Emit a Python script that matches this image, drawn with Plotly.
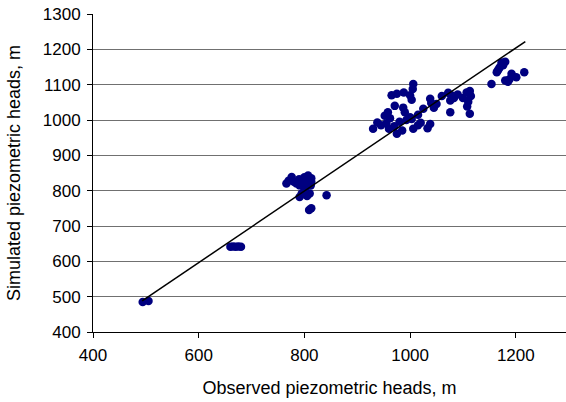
import plotly.graph_objects as go

obs_x = [494, 505,
         660, 665, 670, 675, 680,
         776, 766, 770, 780, 790, 800, 807, 813, 813, 798, 791, 801, 795, 810, 791, 805, 842, 809, 813, 785, 805, 812, 800,
         1006, 1005, 1000, 988, 975, 965, 1003, 971, 987, 990, 958, 952, 962, 1000, 1015, 1025, 1038, 1040, 1060, 1072,
         1078, 1076, 1083, 1090, 1107, 1113, 1115, 1100, 1110, 1108, 1113, 1076, 938, 930, 945, 955, 970, 975, 980, 993,
         1003, 1006, 1015, 1020, 1038, 1033, 985, 960, 1050, 1045,
         1173, 1180, 1170, 1166, 1164, 1168, 1154, 1180, 1188, 1192, 1201, 1216, 1176, 1185]
sim_y = [485, 488,
         641, 642, 641, 642, 641,
         839, 820, 828, 825, 832, 838, 843, 835, 825, 820, 815, 806, 792, 792, 782, 785, 787, 745, 750, 820, 828, 815, 800,
         1102, 1088, 1070, 1078, 1074, 1070, 1057, 1040, 1035, 1022, 1022, 1012, 1005, 1008, 1015, 1032, 1060, 1048, 1068, 1077,
         1070, 1055, 1062, 1072, 1078, 1082, 1068, 1062, 1052, 1038, 1018, 1022, 993, 975, 985, 990, 982, 961, 995, 1000,
         1003, 975, 985, 992, 989, 977, 970, 975, 1045, 1035,
         1163, 1165, 1150, 1140, 1135, 1145, 1102, 1112, 1115, 1131, 1121, 1135, 1155, 1108]

trend_x = [493, 1218]
trend_y = [488, 1222]

x_ticks = [400, 600, 800, 1000, 1200]
y_ticks = [400, 500, 600, 700, 800, 900, 1000, 1100, 1200, 1300]

FONT = "Liberation Sans, Arial, sans-serif"

fig = go.Figure()
fig.add_trace(go.Scatter(x=obs_x, y=sim_y, mode="markers",
                         marker=dict(color="#000080", size=8.5, line=dict(width=0)),
                         showlegend=False))
fig.add_trace(go.Scatter(x=trend_x, y=trend_y, mode="lines",
                         line=dict(color="black", width=1.5), showlegend=False))

fig.update_layout(
    width=566, height=402,
    margin=dict(l=93, r=0, t=14, b=70, autoexpand=False),
    paper_bgcolor="white", plot_bgcolor="white",
    font=dict(family=FONT, size=17, color="black"),
    xaxis=dict(range=[400, 1295], tickvals=x_ticks, showgrid=False, zeroline=False,
               automargin=False,
               showline=True, linecolor="black", linewidth=1,
               ticks="outside", ticklen=5, tickcolor="black", tickfont=dict(size=17),
               ticklabelstandoff=3,
               title=dict(text="Observed piezometric heads, m", standoff=16, font=dict(size=18))),
    yaxis=dict(range=[400, 1300], tickvals=y_ticks, showgrid=True, gridcolor="#707070", gridwidth=1,
               automargin=False,
               zeroline=False, showline=True, linecolor="black", linewidth=1,
               ticks="outside", ticklen=5, tickcolor="black", tickfont=dict(size=17),
               ticklabelstandoff=3,
               title=dict(text="Simulated piezometric heads, m", standoff=17, font=dict(size=18))),
)

fig.write_html(
    "out.html",
    config={"displayModeBar": False},
    post_script="document.body.style.margin='0px';document.body.style.overflow='hidden';",
)
